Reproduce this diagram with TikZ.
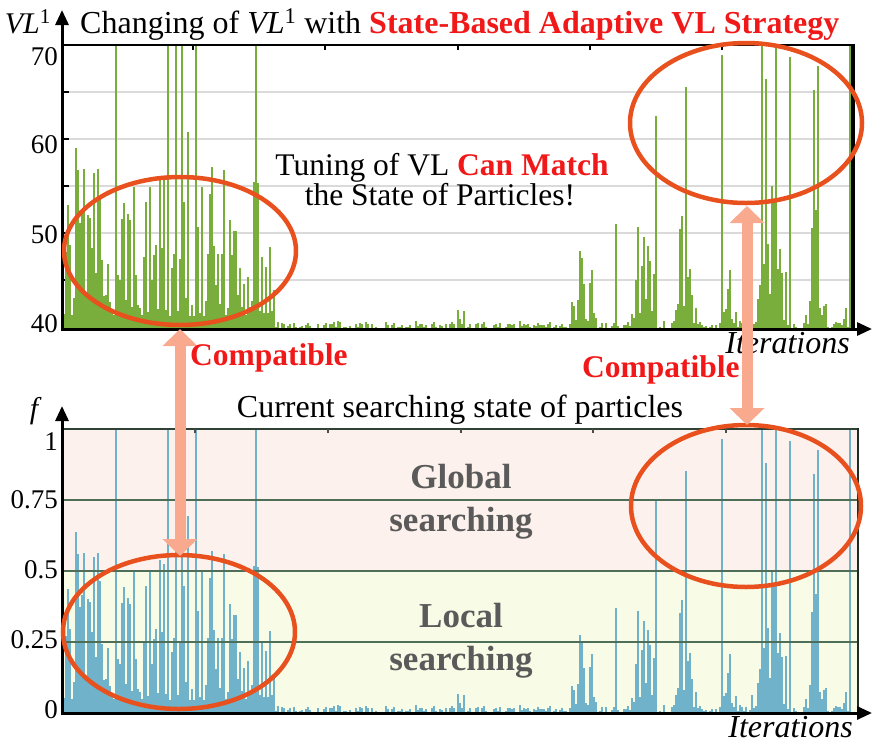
\documentclass[tikz,border=0pt]{standalone}
\usepackage{fontspec}
\setmainfont{Liberation Serif}
\usetikzlibrary{arrows.meta}
\definecolor{barG}{HTML}{7AAE3C}
\definecolor{barB}{HTML}{6FB2CA}
\definecolor{ellC}{HTML}{E8501E}
\definecolor{arrC}{HTML}{F9AA8E}
\definecolor{txtR}{HTML}{F01818}
\definecolor{bgPink}{HTML}{FCF1EC}
\definecolor{bgYel}{HTML}{F8FBE6}
\definecolor{gridG}{HTML}{4E6E58}
\definecolor{gridL}{HTML}{DADADA}
\definecolor{txtG}{HTML}{5A5A5A}
\newcommand\fsz[1]{\fontsize{#1}{#1}\selectfont}
\begin{document}
\begin{tikzpicture}[x=1pt,y=-1pt,
  axisline/.style={line width=3pt,-{Triangle[width=13pt,length=15pt]}},
  ell/.style={draw=ellC,line width=4.5pt},
  compat/.style={arrC,line width=11pt,{Triangle[width=34pt,length=17pt]}-{Triangle[width=34pt,length=17pt]}},
  numlab/.style={anchor=base east,inner sep=0pt,font=\fsz{27}},
  zone/.style={anchor=base,inner sep=0pt,text=txtG,font=\fsz{35}\bfseries},
  iter/.style={anchor=base east,inner sep=0pt,font=\fsz{32}\itshape},
  tick/.style={line width=1.5pt}]
\useasboundingbox (0,0) rectangle (873,745);

% ---------- data ----------
\pgfmathsetseed{4711}
\foreach \i in {0,...,397}{
  \pgfmathsetmacro\xx{63+2*\i}
  \pgfmathsetmacro\env{0.015 + (\xx<275)*0.30
     + 0.28*max(0,1-abs(\xx-582)/14) + 0.45*max(0,1-abs(\xx-642)/14)
     + 0.50*max(0,1-abs(\xx-684)/12) + 0.22*max(0,1-abs(\xx-727)/9)
     + 0.30*max(0,1-abs(\xx-770)/22) + 0.28*max(0,1-abs(\xx-815)/12)
     + 0.08*max(0,1-abs(\xx-460)/5) + 0.05*max(0,1-abs(\xx-845)/5)}
  \pgfmathsetmacro\psp{(\xx<275) ? 0.13 : ((\xx<560) ? 0.004 : 0.07)}
  \pgfmathsetmacro\ra{rnd}
  \pgfmathsetmacro\rb{rnd}
  \pgfmathsetmacro\rc{rnd}
  \pgfmathsetmacro\ff{(\ra<\psp) ? (0.35+0.9*\rc) : (\env*(0.15+1.7*\rb*\rb))}
  \pgfmathsetmacro\ff{min(\ff,1)}
  \expandafter\xdef\csname dat\i\endcsname{\ff}
}

% ---------- top plot ----------
\foreach \yy in {92,139,186,233,280}{
  \draw[gridL,line width=1.5pt] (63,\yy) -- (851,\yy);
  \draw[tick] (63,\yy) -- (69,\yy);
}
\begin{scope}
  \clip (63,45) rectangle (851,328);
  \foreach \i in {0,...,394}{
    \pgfmathsetmacro\xx{64+2*\i}
    \pgfmathsetmacro\yy{329-284*\csname dat\i\endcsname}
    \draw[barG,line width=2pt] (\xx,329) -- (\xx,\yy);
  }
\end{scope}
\draw[line width=2pt] (62,45) -- (853,45);
\draw[line width=4pt] (853,44) -- (853,329);
\foreach \xx in {193,325,458,590,722}{\draw[tick] (\xx,45) -- (\xx,50);}
\coordinate (tyb) at (62,330);
\coordinate (tyt) at (62,10);
\coordinate (txl) at (61,329);
\coordinate (txr) at (872,329);
\draw[axisline] (tyb) -- (tyt);
\draw[axisline] (txl) -- (txr);

\node[anchor=base east,inner sep=0pt,font=\fsz{30}] (vllab) at (51,33) {\itshape VL\upshape\textsuperscript{1}};
\node[anchor=base west,inner sep=0pt,font=\fsz{32}] (title) at (80,33)
  {Changing of \textit{VL}\textsuperscript{1} with \textcolor{txtR}{\bfseries State-Based Adaptive VL Strategy}};
\node[numlab] (n70) at (58,65) {70};
\node[numlab] (n60) at (58,153) {60};
\node[numlab] (n50) at (58,243) {50};
\node[numlab] (n40) at (58,332) {40};
\node[anchor=base,inner sep=0pt,font=\fsz{31.5}] (tun1) at (442,175) {Tuning of VL \textcolor{txtR}{\bfseries Can Match}};
\node[anchor=base,inner sep=0pt,font=\fsz{31.5}] (tun2) at (440,205) {the State of Particles!};
\node[iter] (it1) at (850,353) {Iterations};

% ---------- bottom plot ----------
\fill[bgPink] (63,429) rectangle (858,571);
\fill[bgYel] (63,571) rectangle (858,713);
\begin{scope}
  \clip (63,429) rectangle (857,712);
  \foreach \i in {0,...,397}{
    \pgfmathsetmacro\xx{64+2*\i}
    \pgfmathsetmacro\yy{713-284*\csname dat\i\endcsname}
    \draw[barB,line width=2pt] (\xx,713) -- (\xx,\yy);
  }
\end{scope}
\foreach \yy in {500,571,642}{\draw[gridG,line width=1.4pt] (63,\yy) -- (858,\yy);}
\draw[gridG!60!black,line width=1.6pt] (62,429) -- (858,429);
\draw[gridG!40!black,line width=2.5pt] (858,428) -- (858,713);
\foreach \xx in {195,328,461,593,726}{\draw[tick,black!70] (\xx,429) -- (\xx,433);}
\coordinate (byb) at (62,714);
\coordinate (byt) at (62,406);
\coordinate (bxl) at (61,713);
\coordinate (bxr) at (872,713);
\draw[axisline] (byb) -- (byt);
\draw[axisline] (bxl) -- (bxr);

\node[anchor=base,inner sep=0pt,font=\fsz{30}\itshape] (flab) at (34,418) {f};
\node[numlab] (m1) at (58,450) {1};
\node[numlab] (m75) at (58,508) {0.75};
\node[numlab] (m50) at (58,578) {0.5};
\node[numlab] (m25) at (58,648) {0.25};
\node[numlab] (m0) at (58,718) {0};
\node[anchor=base,inner sep=0pt,font=\fsz{32}] (cur) at (460,417) {Current searching state of particles};
\node[zone] (glob1) at (461,488) {Global};
\node[zone] (glob2) at (461,531) {searching};
\node[zone] (loc1) at (461,627) {Local};
\node[zone] (loc2) at (461,670) {searching};
\node[iter] (it2) at (853,737) {Iterations};

% ---------- ellipses ----------
\draw[ell] (180,251) ellipse [x radius=116pt,y radius=74pt];
\draw[ell] (746,123) ellipse [x radius=116pt,y radius=80pt];
\draw[ell] (179,632) ellipse [x radius=116pt,y radius=77pt];
\draw[ell] (746,506) ellipse [x radius=115pt,y radius=81pt];

% ---------- compatible arrows ----------
\coordinate (la) at (180,329);
\coordinate (lb) at (180,556);
\coordinate (ra) at (747,206);
\coordinate (rb) at (747,425);
\draw[compat] (la) -- (lb);
\draw[compat] (ra) -- (rb);
\node[anchor=base west,inner sep=0pt,font=\fsz{31.5}\bfseries,text=txtR] (c1) at (190,365) {Compatible};
\node[anchor=base west,inner sep=0pt,font=\fsz{31.5}\bfseries,text=txtR] (c2) at (582,377) {Compatible};
\end{tikzpicture}
\end{document}
